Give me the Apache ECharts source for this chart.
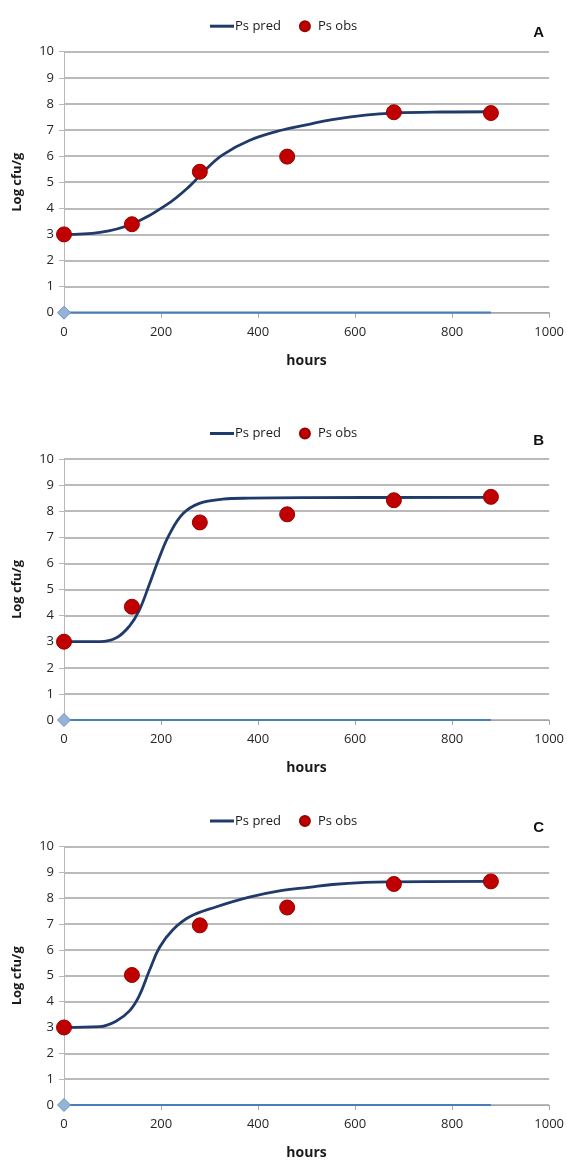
<!DOCTYPE html>
<html>
<head>
<meta charset="utf-8">
<script src="https://cdn.jsdelivr.net/npm/echarts@6/dist/echarts.min.js"></script>
<style>
html,body{margin:0;padding:0;background:#fff;}
#c{width:567px;height:1161px;}
</style>
</head>
<body>
<div id="c"></div>
<script>
// ---- data ----
const panels = ['A', 'B', 'C'];
const obsHours = [0, 140, 280, 460, 680, 880];
const obsA = [3.0, 3.39, 5.40, 5.98, 7.68, 7.65];
const obsB = [3.0, 4.34, 7.57, 7.88, 8.42, 8.55];
const obsC = [3.0, 5.03, 6.95, 7.64, 8.55, 8.65];
const predA = [[0,3.0],[74,3.08],[139,3.39],[211,4.13],[259,4.85],[290,5.45],[327,6.05],[382,6.6],[450,7.0],[505,7.22],[553,7.4],[621,7.57],[680,7.65],[780,7.69],[880,7.7]];
const predB = [[0,3.0],[74,3.0],[108,3.15],[135,3.6],[155,4.2],[176,5.2],[197,6.25],[217,7.1],[245,7.9],[279,8.3],[327,8.46],[382,8.5],[500,8.52],[880,8.53]];
const predC = [[0,3.0],[74,3.03],[108,3.25],[135,3.64],[155,4.22],[176,5.2],[197,6.1],[224,6.77],[259,7.28],[313,7.66],[382,8.04],[450,8.3],[505,8.42],[553,8.53],[621,8.61],[680,8.63],[880,8.65]];
const baselineHours = [0, 880];
const baselineValues = [0, 0];

const obsAll = [obsA, obsB, obsC];
const predAll = [predA, predB, predC];

const gridTops = [51.7, 459, 846.5];
const gridH = 261;
const gridLeft = 64, gridRight = 17;
const tickFont = '"Open Sans", Lato, sans-serif';

const grids = [], xAxes = [], yAxes = [], series = [], legends = [], titles = [];
panels.forEach((p, i) => {
  const top = gridTops[i];
  grids.push({left: gridLeft, right: gridRight, top: top, height: gridH});
  xAxes.push({
    type: 'value', gridIndex: i, min: 0, max: 1000, interval: 200,
    name: 'hours', nameLocation: 'middle', nameGap: 41,
    nameTextStyle: {fontFamily: tickFont, fontWeight: 'bold', fontSize: 14, color: '#1a1a1a'},
    axisLine: {show: true, lineStyle: {color: '#a6a6a6', width: 1.2}},
    axisTick: {show: true, length: 5, lineStyle: {color: '#a6a6a6'}},
    axisLabel: {fontFamily: tickFont, fontSize: 13, color: '#262626', margin: 13,
      formatter: v => String(v)},
    splitLine: {show: false}
  });
  yAxes.push({
    type: 'value', gridIndex: i, min: 0, max: 10, interval: 1,
    name: 'Log cfu/g', nameLocation: 'middle', nameGap: 40,
    nameTextStyle: {fontFamily: tickFont, fontWeight: 'bold', fontSize: 13, color: '#1a1a1a'},
    axisLine: {show: true, lineStyle: {color: '#b8b8b8', width: 1}},
    axisTick: {show: true, length: 5, lineStyle: {color: '#b8b8b8'}},
    axisLabel: {fontFamily: tickFont, fontSize: 13, color: '#262626', margin: 10},
    splitLine: {show: true, lineStyle: {color: '#a3a3a3', width: 1.5}}
  });
  series.push({
    name: 'Ps zero', type: 'line', xAxisIndex: i, yAxisIndex: i,
    data: baselineHours.map((h, k) => ({
      value: [h, baselineValues[k]],
      symbol: k === 0 ? 'diamond' : 'none'
    })),
    smooth: false, z: 3,
    symbolSize: 13, showSymbol: true,
    lineStyle: {color: '#4a7ebb', width: 2.2},
    itemStyle: {color: '#95b3d7', borderColor: '#6d93c8', borderWidth: 1},
    silent: true
  });
  series.push({
    name: 'Ps pred', type: 'line', xAxisIndex: i, yAxisIndex: i,
    data: predAll[i], smooth: 0.4, symbol: 'none', z: 4,
    lineStyle: {color: '#1f3a6b', width: 2.8},
    itemStyle: {color: '#1f3a6b'}
  });
  series.push({
    name: 'Ps obs', type: 'scatter', xAxisIndex: i, yAxisIndex: i,
    data: obsHours.map((h, k) => [h, obsAll[i][k]]), z: 5,
    symbol: 'circle', symbolSize: 15,
    itemStyle: {color: '#c00000', borderColor: '#9a0000', borderWidth: 1, opacity: 1}
  });
  legends.push({
    data: [
      {name: 'Ps pred', icon: 'path://M0,0 L24,0 L24,3 L0,3 Z', itemStyle: {color: '#1f3a6b'}},
      {name: 'Ps obs', icon: 'circle'}
    ],
    symbolKeepAspect: true,
    left: 205, top: top - 37, itemGap: 18, itemWidth: 24, itemHeight: 10,
    textStyle: {fontFamily: tickFont, fontSize: 13, color: '#1a1a1a', padding: [0,0,0,-4]},
    selectedMode: false
  });
  titles.push({
    text: p, right: 18, top: top - 31,
    textStyle: {fontFamily: '"Liberation Sans", Arial, sans-serif', fontWeight: 'bold', fontSize: 15, color: '#111'}
  });
});

const chart = echarts.init(document.getElementById('c'), null, {renderer: 'canvas'});
chart.setOption({
  animation: false,
  backgroundColor: '#fff',
  title: titles,
  legend: legends,
  grid: grids,
  xAxis: xAxes,
  yAxis: yAxes,
  series: series
});
</script>
</body>
</html>
